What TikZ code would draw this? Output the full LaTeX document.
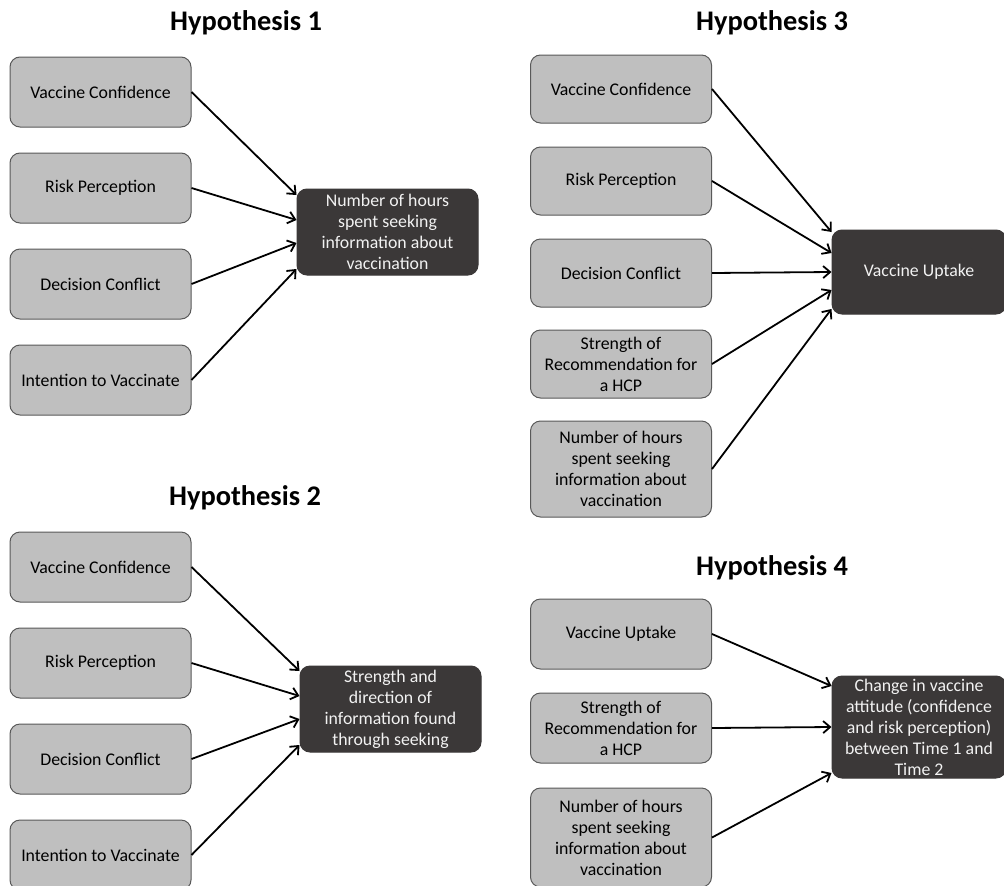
\documentclass[tikz,border=0pt]{standalone}
\usepackage{fontspec}
\setmainfont{Carlito}
\usepackage{xcolor}
\usepackage{tikz}
\usetikzlibrary{positioning, arrows.meta}
\definecolor{hpgray}{HTML}{BFBFBF}
\definecolor{hpedge}{HTML}{595959}
\definecolor{hpdark}{HTML}{3B3838}
\definecolor{hplight}{HTML}{F2F2F2}

\begin{document}
\begin{tikzpicture}[
  x=1pt, y=-1pt,
  factor/.style={
    rectangle, rounded corners=10pt, draw=hpedge, line width=1pt,
    fill=hpgray, minimum width=181pt, minimum height=70pt,
    inner sep=2pt, align=center, font=\fontsize{17.8}{21}\selectfont
  },
  outcome/.style={
    factor, draw=hpdark, fill=hpdark, text=hplight, minimum height=86pt
  },
  hyptitle/.style={font=\fontsize{28.4}{34}\selectfont\bfseries},
  arr/.style={-{Straight Barb[length=7pt, width=12pt, line width=1.8pt]}, line width=1.8pt},
]
\useasboundingbox[fill=white] (0,0) rectangle (1004,886);

% Hypothesis 1
\node[hyptitle] (h1) at (246,23) {Hypothesis 1};
\node[factor] (h1conf) at (100.5,92) {Vaccine Confidence};
\node[factor, below=25pt of h1conf] (h1risk) {Risk Perception};
\node[factor, below=25pt of h1risk] (h1dec) {Decision Conflict};
\node[factor, below=25pt of h1dec] (h1int) {Intention to Vaccinate};
\node[outcome] (h1out) at (387.5,232) {Number of hours\\spent seeking\\information about\\vaccination};

% Hypothesis 2
\node[hyptitle] (h2) at (245,498) {Hypothesis 2};
\node[factor] (h2conf) at (100.5,567) {Vaccine Confidence};
\node[factor, below=25pt of h2conf] (h2risk) {Risk Perception};
\node[factor, below=25pt of h2risk] (h2dec) {Decision Conflict};
\node[factor, below=25pt of h2dec] (h2int) {Intention to Vaccinate};
\node[outcome] (h2out) at (390.5,709) {Strength and\\direction of\\information found\\through seeking};

% Hypothesis 3
\node[hyptitle] (h3) at (772,23) {Hypothesis 3};
\node[factor, minimum height=68pt] (h3conf) at (621,89) {Vaccine Confidence};
\node[factor, minimum height=68pt, below=23pt of h3conf] (h3risk) {Risk Perception};
\node[factor, minimum height=68pt, below=23pt of h3risk] (h3dec) {Decision Conflict};
\node[factor, minimum height=68pt, below=22pt of h3dec] (h3rec) {Strength of\\Recommendation for\\a HCP};
\node[factor, minimum height=96pt, below=22pt of h3rec] (h3hours) {Number of hours\\spent seeking\\information about\\vaccination};
\node[outcome, minimum width=174pt, minimum height=84pt] (h3out) at (919,272) {Vaccine Uptake};

% Hypothesis 4
\node[hyptitle] (h4) at (772,568) {Hypothesis 4};
\node[factor] (h4up) at (621,634) {Vaccine Uptake};
\node[factor, below=23pt of h4up] (h4rec) {Strength of\\Recommendation for\\a HCP};
\node[factor, minimum height=99pt, below=24pt of h4rec] (h4hours) {Number of hours\\spent seeking\\information about\\vaccination};
\node[outcome, minimum width=174pt, minimum height=102pt] (h4out) at (919,727) {Change in vaccine\\attitude (confidence\\and risk perception)\\between Time 1 and\\Time 2};

% Relations
\draw[arr] (h1conf.east) -- ([yshift=37pt]h1out.west);
\draw[arr] (h1risk.east) -- ([yshift=12pt]h1out.west);
\draw[arr] (h1dec.east) -- ([yshift=-11pt]h1out.west);
\draw[arr] (h1int.east) -- ([yshift=-37pt]h1out.west);

\draw[arr] (h2conf.east) -- ([yshift=38pt]h2out.west);
\draw[arr] (h2risk.east) -- ([yshift=13pt]h2out.west);
\draw[arr] (h2dec.east) -- ([yshift=-10pt]h2out.west);
\draw[arr] (h2int.east) -- ([yshift=-36pt]h2out.west);

\draw[arr] (h3conf.east) -- ([yshift=40pt]h3out.west);
\draw[arr] (h3risk.east) -- ([yshift=19pt]h3out.west);
\draw[arr] (h3dec.east) -- (h3out.west);
\draw[arr] (h3rec.east) -- ([yshift=-18pt]h3out.west);
\draw[arr] (h3hours.east) -- ([yshift=-37pt]h3out.west);

\draw[arr] (h4up.east) -- ([yshift=41pt]h4out.west);
\draw[arr] (h4rec.east) -- (h4out.west);
\draw[arr] (h4hours.east) -- ([yshift=-46pt]h4out.west);

\end{tikzpicture}
\end{document}
